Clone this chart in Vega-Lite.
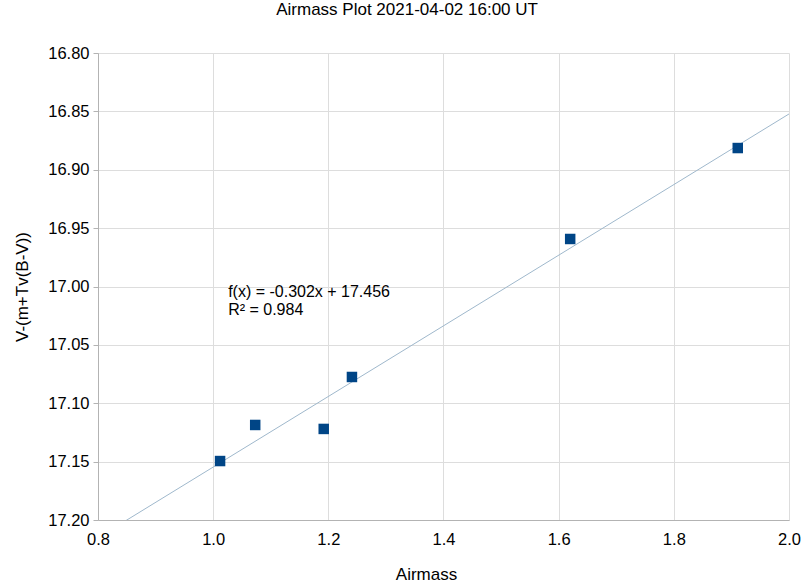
{
  "$schema": "https://vega.github.io/schema/vega-lite/v6.json",
  "width": 691,
  "height": 467,
  "autosize": "none",
  "padding": {"left": 98, "top": 53, "right": 13, "bottom": 67},
  "background": "white",
  "title": {
    "text": "Airmass Plot 2021-04-02 16:00 UT",
    "font": "Liberation Sans",
    "fontSize": 17,
    "fontWeight": "normal",
    "color": "#000000",
    "frame": "bounds",
    "anchor": "middle",
    "offset": 26
  },
  "config": {
    "view": {"stroke": null},
    "font": "Liberation Sans",
    "axis": {
      "labelFont": "Liberation Sans",
      "titleFont": "Liberation Sans",
      "labelFontSize": 16.5,
      "titleFontSize": 17,
      "titleFontWeight": "normal",
      "labelColor": "#000000",
      "titleColor": "#000000",
      "gridColor": "#dddddd",
      "domainColor": "#b3b3b3",
      "tickColor": "#b3b3b3",
      "labelFlush": false
    }
  },
  "datasets": {
    "points": [
      {"airmass": 1.012, "v": 17.1495},
      {"airmass": 1.073, "v": 17.1186},
      {"airmass": 1.192, "v": 17.1220},
      {"airmass": 1.241, "v": 17.0775},
      {"airmass": 1.620, "v": 16.9593},
      {"airmass": 1.911, "v": 16.8814}
    ],
    "notes": [
      {"airmass": 1.026, "v": 17.0045, "label": "f(x) = -0.302x + 17.456"},
      {"airmass": 1.026, "v": 17.0200, "label": "R² = 0.984"}
    ]
  },
  "layer": [
    {
      "data": {"name": "points"},
      "transform": [
        {"regression": "v", "on": "airmass", "method": "linear", "extent": [0.8, 2.0]}
      ],
      "mark": {"type": "line", "color": "#9fb8cc", "strokeWidth": 1, "clip": true},
      "encoding": {
        "x": {
          "field": "airmass",
          "type": "quantitative",
          "scale": {"domain": [0.8, 2.0], "nice": false, "zero": false},
          "axis": {
            "title": "Airmass",
            "values": [0.8, 1.0, 1.2, 1.4, 1.6, 1.8, 2.0],
            "format": ".1f",
            "tickSize": 0,
            "labelPadding": 11,
            "titlePadding": 19,
            "titleX": 328
          }
        },
        "y": {
          "field": "v",
          "type": "quantitative",
          "scale": {"domain": [16.8, 17.2], "reverse": true, "nice": false, "zero": false},
          "axis": {
            "title": "V-(m+Tv(B-V))",
            "values": [16.8, 16.85, 16.9, 16.95, 17.0, 17.05, 17.1, 17.15, 17.2],
            "format": ".2f",
            "tickSize": 5,
            "labelPadding": 4,
            "titlePadding": 16
          }
        }
      }
    },
    {
      "data": {"name": "points"},
      "mark": {"type": "square", "color": "#004586", "opacity": 1, "size": 110, "filled": true},
      "encoding": {
        "x": {"field": "airmass", "type": "quantitative"},
        "y": {"field": "v", "type": "quantitative"}
      }
    },
    {
      "data": {"name": "notes"},
      "mark": {"type": "text", "align": "left", "baseline": "middle", "fontSize": 16, "font": "Liberation Sans", "color": "#000000"},
      "encoding": {
        "x": {"field": "airmass", "type": "quantitative"},
        "y": {"field": "v", "type": "quantitative"},
        "text": {"field": "label"}
      }
    }
  ]
}
